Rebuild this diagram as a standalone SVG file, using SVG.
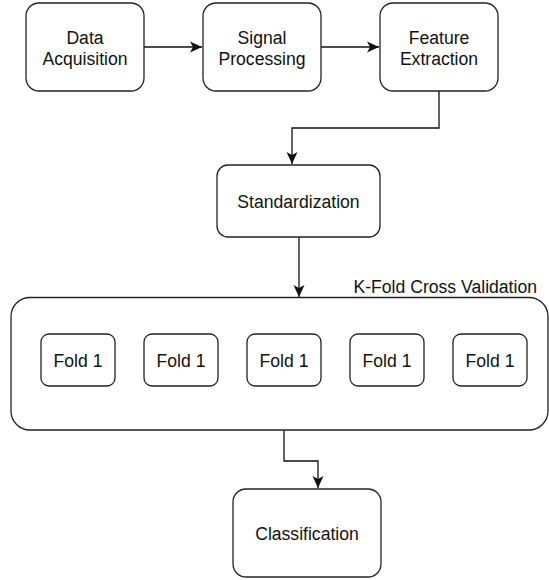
<svg xmlns="http://www.w3.org/2000/svg" width="549" height="580" viewBox="0 0 549 580">
<style>
.box{fill:#fff;stroke:#222;stroke-width:1.3}
.t{font-family:"Liberation Sans",Arial,sans-serif;font-size:17.6px;fill:#111;text-anchor:middle}
.c{fill:none;stroke:#111;stroke-width:1.3}
</style>
<defs>
<marker id="arr" markerUnits="userSpaceOnUse" markerWidth="14" markerHeight="14" viewBox="0 0 14 14" refX="12" refY="7" orient="auto">
<path d="M0,1.5 L12,7 L0,12.5 L3,7 z" fill="#111"/>
</marker>
</defs>
<rect width="549" height="580" fill="#fff"/>
<g id="connectors">
<path class="c" d="M144,47 H202" marker-end="url(#arr)"/>
<path class="c" d="M321,47 H379" marker-end="url(#arr)"/>
<path class="c" d="M439,91 V128 H292 V164" marker-end="url(#arr)"/>
<path class="c" d="M299,237 V297" marker-end="url(#arr)"/>
<path class="c" d="M284,430 V461 H318 V488" marker-end="url(#arr)"/>
</g>
<g id="data-acquisition">
<rect class="box" x="26" y="3" width="118" height="88" rx="13"/>
<text class="t" x="85" y="44">Data</text>
<text class="t" x="85" y="65">Acquisition</text>
</g>
<g id="signal-processing">
<rect class="box" x="203" y="3" width="118" height="88" rx="13"/>
<text class="t" x="262" y="44">Signal</text>
<text class="t" x="262" y="65">Processing</text>
</g>
<g id="feature-extraction">
<rect class="box" x="380" y="3" width="118" height="88" rx="13"/>
<text class="t" x="439" y="44">Feature</text>
<text class="t" x="439" y="65">Extraction</text>
</g>
<g id="standardization">
<rect class="box" x="217" y="165" width="163" height="72" rx="11"/>
<text class="t" x="298.5" y="207.5">Standardization</text>
</g>
<g id="kfold">
<rect class="box" x="11" y="297.5" width="537" height="132.5" rx="19"/>
<text class="t" x="537" y="293" style="text-anchor:end">K-Fold Cross Validation</text>
</g>
<g id="fold-1">
<rect class="box" x="41" y="334" width="74" height="52" rx="8"/>
<text class="t" x="78" y="366.5">Fold 1</text>
</g>
<g id="fold-2">
<rect class="box" x="144" y="334" width="74" height="52" rx="8"/>
<text class="t" x="181" y="366.5">Fold 1</text>
</g>
<g id="fold-3">
<rect class="box" x="247" y="334" width="74" height="52" rx="8"/>
<text class="t" x="284" y="366.5">Fold 1</text>
</g>
<g id="fold-4">
<rect class="box" x="350" y="334" width="74" height="52" rx="8"/>
<text class="t" x="387" y="366.5">Fold 1</text>
</g>
<g id="fold-5">
<rect class="box" x="453" y="334" width="74" height="52" rx="8"/>
<text class="t" x="490" y="366.5">Fold 1</text>
</g>
<g id="classification">
<rect class="box" x="233" y="489" width="148" height="88" rx="13"/>
<text class="t" x="307" y="539.5">Classification</text>
</g>
</svg>
